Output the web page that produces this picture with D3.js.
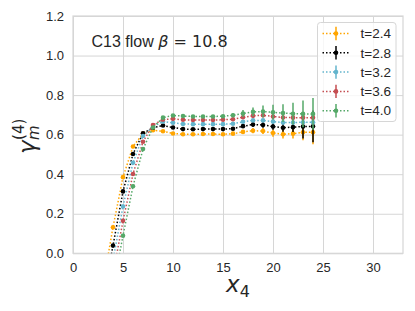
<!DOCTYPE html>
<html>
<head>
<meta charset="utf-8">
<script src="https://cdn.jsdelivr.net/npm/d3@7"></script>
<style>
  body { margin: 0; background: #fff; }
  svg text { font-family: "Liberation Sans", Arial, sans-serif; }
  .math { font-family: "DejaVu Sans", sans-serif; }
</style>
</head>
<body>
<div id="chart"></div>
<script>
/************ Data ************/
var xValues = [3, 4, 5, 6, 7, 8, 9, 10, 11, 12, 13, 14, 15, 16, 17, 18, 19, 20, 21, 22, 23, 24];

var flowTimes = ['t=2.4', 't=2.8', 't=3.2', 't=3.6', 't=4.0'];
var seriesColors = ['#ffa500', '#000000', '#64b5cd', '#c44e52', '#55a868'];

var gammaT24 = [-0.16, 0.132, 0.385, 0.54, 0.605, 0.622, 0.617, 0.606, 0.602, 0.602, 0.603, 0.603, 0.602, 0.605, 0.614, 0.62, 0.618, 0.608, 0.602, 0.605, 0.612, 0.612];
var gammaT28 = [-0.23, 0.039, 0.313, 0.502, 0.607, 0.635, 0.646, 0.636, 0.628, 0.627, 0.628, 0.628, 0.628, 0.63, 0.643, 0.651, 0.649, 0.641, 0.635, 0.638, 0.641, 0.642];
var gammaT32 = [-0.3, -0.035, 0.237, 0.458, 0.593, 0.64, 0.666, 0.66, 0.654, 0.653, 0.653, 0.653, 0.653, 0.655, 0.665, 0.672, 0.672, 0.666, 0.661, 0.661, 0.663, 0.663];
var gammaT36 = [-0.37, -0.105, 0.164, 0.401, 0.564, 0.649, 0.676, 0.68, 0.675, 0.674, 0.674, 0.674, 0.675, 0.678, 0.688, 0.695, 0.698, 0.692, 0.687, 0.686, 0.686, 0.686];
var gammaT40 = [-0.44, -0.175, 0.089, 0.339, 0.527, 0.636, 0.686, 0.697, 0.694, 0.692, 0.692, 0.692, 0.693, 0.698, 0.707, 0.715, 0.717, 0.713, 0.709, 0.706, 0.705, 0.705];

var errT24 = [0.005, 0.005, 0.005, 0.005, 0.005, 0.005, 0.005, 0.005, 0.005, 0.005, 0.005, 0.005, 0.005, 0.006, 0.01, 0.013, 0.015, 0.018, 0.022, 0.025, 0.04, 0.06];
var errT28 = [0.005, 0.005, 0.005, 0.005, 0.005, 0.005, 0.005, 0.005, 0.005, 0.005, 0.005, 0.005, 0.005, 0.006, 0.01, 0.012, 0.014, 0.016, 0.02, 0.025, 0.06, 0.08];
var errT32 = [0.005, 0.005, 0.005, 0.005, 0.005, 0.005, 0.005, 0.005, 0.005, 0.005, 0.005, 0.005, 0.005, 0.005, 0.006, 0.007, 0.008, 0.009, 0.01, 0.01, 0.011, 0.012];
var errT36 = [0.005, 0.005, 0.005, 0.005, 0.005, 0.005, 0.005, 0.005, 0.005, 0.005, 0.005, 0.005, 0.005, 0.006, 0.008, 0.01, 0.01, 0.012, 0.012, 0.013, 0.014, 0.015];
var errT40 = [0.005, 0.005, 0.005, 0.005, 0.005, 0.005, 0.005, 0.005, 0.005, 0.005, 0.005, 0.005, 0.006, 0.01, 0.018, 0.022, 0.03, 0.038, 0.045, 0.055, 0.068, 0.08];

var xTicks = [0, 5, 10, 15, 20, 25, 30];
var yTicks = [0.0, 0.2, 0.4, 0.6, 0.8, 1.0, 1.2];

var titleText = 'C13 flow ';
var titleMath = ' = 10.8';

/************ Layout ************/
var width = 415,
	height = 311,
	plotLeft = 73,
	plotRight = 403,
	plotTop = 16,
	plotBottom = 253.3,
	gridColor = '#d6d6d6',
	tickColor = '#262626';

var x = d3.scaleLinear().domain([0, 33]).range([plotLeft, plotRight]);
var y = d3.scaleLinear().domain([0, 1.2]).range([plotBottom, plotTop]);

var svg = d3.select('#chart').append('svg')
	.attr('width', width)
	.attr('height', height);

drawAxes();
drawSeries();
drawLegend();
drawLabels();

/* grid, frame and tick labels (seaborn whitegrid look) */
function drawAxes(){
	var xAxis = d3.axisBottom(x).tickValues(xTicks).tickSize(-(plotBottom - plotTop)).tickFormat(d3.format('d'));
	var yAxis = d3.axisLeft(y).tickValues(yTicks).tickSize(-(plotRight - plotLeft)).tickFormat(d3.format('.1f'));

	var gx = svg.append('g')
		.attr('transform', 'translate(0,' + plotBottom + ')')
		.call(xAxis);
	var gy = svg.append('g')
		.attr('transform', 'translate(' + plotLeft + ',0)')
		.call(yAxis);

	[gx, gy].forEach(function(g){
		g.select('.domain').remove();
		g.selectAll('line').attr('stroke', gridColor).attr('stroke-width', 1);
		g.selectAll('text')
			.attr('fill', tickColor)
			.style('font-size', '13px');
	});
	gx.selectAll('text').attr('y', 9);
	gy.selectAll('text').attr('x', -9);

	svg.append('rect')
		.attr('x', plotLeft)
		.attr('y', plotTop)
		.attr('width', plotRight - plotLeft)
		.attr('height', plotBottom - plotTop)
		.attr('fill', 'none')
		.attr('stroke', gridColor)
		.attr('stroke-width', 1.2);

	svg.append('clipPath').attr('id', 'plot-clip')
		.append('rect')
		.attr('x', plotLeft)
		.attr('y', plotTop)
		.attr('width', plotRight - plotLeft)
		.attr('height', plotBottom - plotTop);
}

/* dotted lines, error bars and markers for each flow time */
function drawSeries(){
	var allValues = [gammaT24, gammaT28, gammaT32, gammaT36, gammaT40];
	var allErrors = [errT24, errT28, errT32, errT36, errT40];

	var line = d3.line()
		.x(function(d){ return x(d.x); })
		.y(function(d){ return y(d.v); });

	var plot = svg.append('g').attr('clip-path', 'url(#plot-clip)');

	allValues.forEach(function(vals, s){
		var pts = xValues.map(function(xv, i){ return {x: xv, v: vals[i], e: allErrors[s][i]}; });
		var g = plot.append('g');
		var c = seriesColors[s];

		g.append('path')
			.datum(pts)
			.attr('d', line)
			.attr('fill', 'none')
			.attr('stroke', c)
			.attr('stroke-width', 1.5)
			.attr('stroke-dasharray', '1.5,2');

		g.selectAll('.err')
			.data(pts)
			.enter().append('line')
				.attr('class', 'err')
				.attr('x1', function(d){ return x(d.x); })
				.attr('x2', function(d){ return x(d.x); })
				.attr('y1', function(d){ return y(d.v - d.e); })
				.attr('y2', function(d){ return y(d.v + d.e); })
				.attr('stroke', c)
				.attr('stroke-width', 1.5);

		g.selectAll('.dot')
			.data(pts)
			.enter().append('circle')
				.attr('class', 'dot')
				.attr('cx', function(d){ return x(d.x); })
				.attr('cy', function(d){ return y(d.v); })
				.attr('r', 2.3)
				.attr('fill', c);
	});
}

/* legend box in the upper right corner */
function drawLegend(){
	var lg = svg.append('g').attr('transform', 'translate(317.5,22.5)');
	lg.append('rect')
		.attr('width', 78.5)
		.attr('height', 99)
		.attr('rx', 3)
		.attr('fill', 'rgba(255,255,255,0.8)')
		.attr('stroke', gridColor)
		.attr('stroke-width', 1);

	var items = lg.selectAll('.item')
		.data(flowTimes)
		.enter().append('g')
			.attr('class', 'item')
			.attr('transform', function(d, i){ return 'translate(0,' + (11 + i * 19.3) + ')'; });

	items.append('line')
		.attr('x1', 5).attr('x2', 33)
		.attr('y1', 0).attr('y2', 0)
		.attr('stroke', function(d, i){ return seriesColors[i]; })
		.attr('stroke-width', 1.5)
		.attr('stroke-dasharray', '1.5,2');
	items.append('line')
		.attr('x1', 18.5).attr('x2', 18.5)
		.attr('y1', -6.7).attr('y2', 6.7)
		.attr('stroke', function(d, i){ return seriesColors[i]; })
		.attr('stroke-width', 1.5);
	items.append('circle')
		.attr('cx', 18.5).attr('cy', 0).attr('r', 2.3)
		.attr('fill', function(d, i){ return seriesColors[i]; });
	items.append('text')
		.attr('x', 43)
		.attr('y', 4.7)
		.attr('fill', tickColor)
		.style('font-size', '13.5px')
		.text(function(d){ return d; });
}

/* title inside the axes and the two axis labels */
function drawLabels(){
	var title = svg.append('text')
		.attr('x', 91.5)
		.attr('y', 46.5)
		.attr('fill', tickColor)
		.style('font-size', '16px');
	title.append('tspan').text(titleText);
	title.append('tspan').attr('class', 'math').style('font-style', 'italic').text('\u03b2');
	title.append('tspan').attr('class', 'math').text(titleMath);

	// x label: x_4
	var xl = svg.append('text')
		.attr('class', 'math')
		.attr('x', 238)
		.attr('y', 292)
		.attr('text-anchor', 'middle')
		.attr('fill', tickColor);
	xl.append('tspan').style('font-style', 'italic').style('font-size', '23px').text('x');
	xl.append('tspan').attr('dy', 5).style('font-size', '16px').text('4');

	// y label: gamma_m^(4), rotated
	var yl = svg.append('g').attr('transform', 'translate(35,154) rotate(-90)');
	var g1 = yl.append('text')
		.attr('class', 'math')
		.attr('x', 0).attr('y', 0)
		.attr('fill', tickColor)
		.style('font-style', 'italic')
		.style('font-size', '23px')
		.text('\u03b3');
	var w = g1.node().getComputedTextLength();
	yl.append('text')
		.attr('class', 'math')
		.attr('x', w + 0.5).attr('y', 4)
		.attr('fill', tickColor)
		.style('font-style', 'italic')
		.style('font-size', '15px')
		.text('m');
	yl.append('text')
		.attr('class', 'math')
		.attr('x', w + 0.5).attr('y', -11)
		.attr('fill', tickColor)
		.style('font-size', '15px')
		.text('(4)');
}
</script>
</body>
</html>
